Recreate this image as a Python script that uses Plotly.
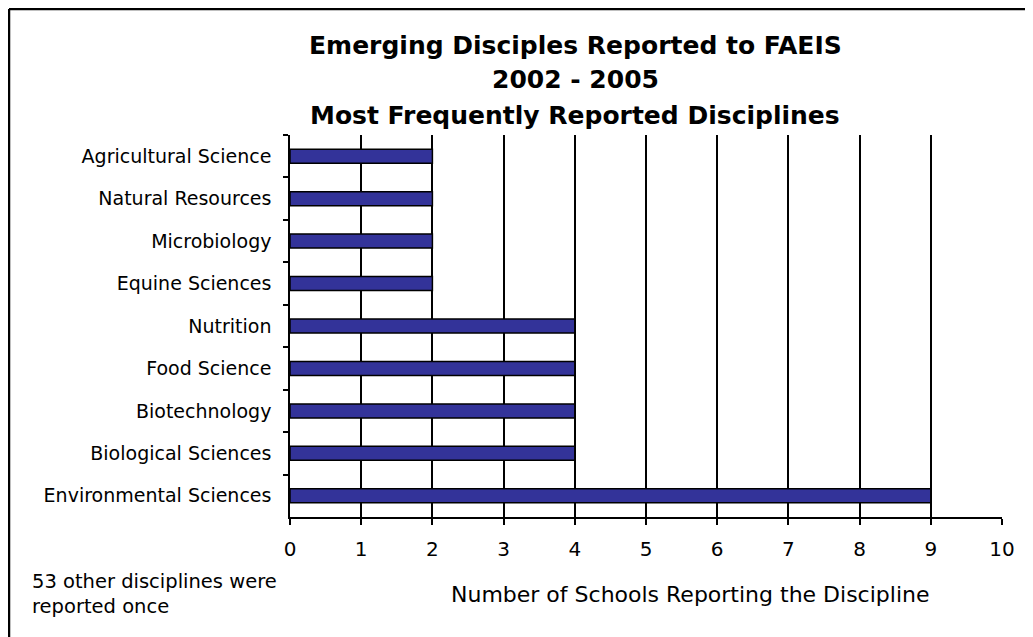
import plotly.graph_objects as go

categories = [
    "Agricultural Science",
    "Natural Resources",
    "Microbiology",
    "Equine Sciences",
    "Nutrition",
    "Food Science",
    "Biotechnology",
    "Biological Sciences",
    "Environmental Sciences",
]
schools = [2, 2, 2, 2, 4, 4, 4, 4, 9]
x_ticks = [0, 1, 2, 3, 4, 5, 6, 7, 8, 9, 10]

title_lines = [
    "Emerging Disciples Reported to FAEIS",
    "2002 - 2005",
    "Most Frequently Reported Disciplines",
]
x_title = "Number of Schools Reporting the Discipline"
note_text = "53 other disciplines were<br>reported once"

# the page adds an 8px body margin; all pixel positions below are in
# reference-image pixels and shifted by that offset
OFF = 8
W, H = 1033, 637
L, R, T, B = 290 - OFF, 1002 - OFF, 135 - OFF, 517 - OFF
PW, PH = R - L, B - T


def px(xp):
    return (xp - OFF - L) / PW


def py(yp):
    return (B - (yp - OFF)) / PH


FONT = "DejaVu Sans"

fig = go.Figure()
fig.add_trace(go.Bar(
    x=schools,
    y=categories,
    orientation="h",
    width=0.33,
    marker=dict(color="#333399", line=dict(color="black", width=1.5)),
))

annotations = []
for line, ypix in zip(title_lines, [45, 80, 116]):
    annotations.append(dict(
        text=line, x=px(575), y=py(ypix), xref="paper", yref="paper",
        showarrow=False, xanchor="center", yanchor="middle",
        font=dict(family=FONT, size=25, color="black", weight="bold"),
    ))
annotations.append(dict(
    text=x_title, x=px(690), y=py(594), xref="paper", yref="paper",
    showarrow=False, xanchor="center", yanchor="middle",
    font=dict(family=FONT, size=22, color="black"),
))
annotations.append(dict(
    text=note_text, x=px(30), y=py(594), xref="paper", yref="paper",
    showarrow=False, xanchor="left", yanchor="middle", align="left",
    font=dict(family=FONT, size=19.5, color="black"),
))

shapes = [
    dict(type="line", xref="paper", yref="paper",
         x0=px(9), x1=px(1060), y0=py(9), y1=py(9),
         line=dict(color="black", width=2.5)),
    dict(type="line", xref="paper", yref="paper",
         x0=px(9), x1=px(9), y0=py(9), y1=py(660),
         line=dict(color="black", width=2.5)),
]

fig.update_layout(
    width=W, height=H,
    margin=dict(l=L, r=W - R, t=T, b=H - B, pad=0),
    paper_bgcolor="white", plot_bgcolor="white",
    showlegend=False,
    annotations=annotations,
    shapes=shapes,
    font=dict(family=FONT, size=19, color="black"),
)
fig.update_xaxes(
    range=[0, 10], tickvals=x_ticks, ticktext=[str(v) for v in x_ticks],
    showgrid=True, gridcolor="black", gridwidth=1.5,
    showline=True, linecolor="black", linewidth=1.5,
    ticks="outside", ticklen=6, tickcolor="black", tickwidth=1.5,
    zeroline=False, ticklabelstandoff=7,
    tickfont=dict(family=FONT, size=20, color="black"),
)
fig.update_yaxes(
    categoryorder="array", categoryarray=categories, autorange="reversed",
    showgrid=False, showline=True, linecolor="black", linewidth=1.5,
    ticks="outside", ticklen=5, tickcolor="black", tickwidth=1.5,
    tickson="boundaries", ticklabelstandoff=13,
    tickfont=dict(family=FONT, size=19, color="black"),
)

fig.write_html("out.html")
